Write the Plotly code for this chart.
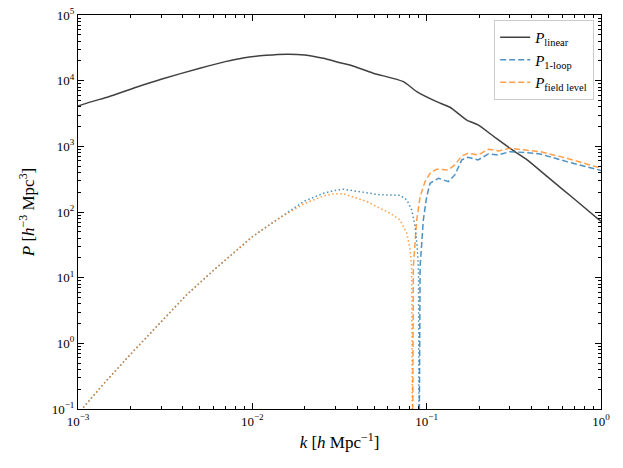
import plotly.graph_objects as go

# P linear (black)
k_lin = [0.001, 0.0012, 0.0015, 0.00218, 0.003, 0.005, 0.007, 0.00886, 0.012, 0.0158, 0.02,
         0.0255, 0.0318, 0.0363, 0.0494, 0.0735, 0.0877, 0.114, 0.136, 0.170, 0.197, 0.25,
         0.31, 0.377, 0.5, 0.7, 1.0]
p_lin = [4100, 4800, 5700, 8010, 10500, 15500, 19500, 22100, 24300, 25300, 24600,
         21900, 18800, 17300, 13000, 9660, 6810, 4790, 3940, 2510, 2120, 1330,
         880, 621, 333, 159, 72]

# P 1-loop: negative part (|P|, dotted) and positive part (dashed)
k_1loop_neg = [0.001, 0.0014, 0.002, 0.003, 0.0042, 0.006, 0.0071, 0.01, 0.0138, 0.0197, 0.0256,
               0.0295, 0.0333, 0.0434, 0.0539, 0.0703, 0.0769, 0.082, 0.0858, 0.0882, 0.0898, 0.0905]
p_1loop_neg = [0.085, 0.24, 0.68, 2.1, 5.5, 13, 19, 42, 76, 145, 193,
               212, 222, 200, 183, 180, 153, 108, 60, 30, 13, 0.02]
k_1loop_pos = [0.0905, 0.0917, 0.0957, 0.1, 0.1046, 0.117, 0.133, 0.145, 0.159, 0.173, 0.197,
               0.226, 0.258, 0.300, 0.377, 0.447, 0.637, 1.0]
p_1loop_pos = [0.02, 14.8, 76, 171, 274, 327, 290, 367, 621, 682, 621,
               766, 739, 830, 802, 766, 585, 430]

# P field level: negative part (|P|, dotted) and positive part (dashed)
k_field_neg = [0.001, 0.0014, 0.002, 0.003, 0.0042, 0.006, 0.0071, 0.01, 0.0138, 0.0197, 0.0256,
               0.0295, 0.0333, 0.0397, 0.0453, 0.0494, 0.0617, 0.0703, 0.0769, 0.0804, 0.082, 0.083]
p_field_neg = [0.085, 0.24, 0.68, 2.1, 5.5, 13, 19, 42, 76, 133, 175,
               190, 190, 165, 145, 128, 96, 76, 47.5, 26.5, 14.8, 0.02]
k_field_pos = [0.083, 0.0839, 0.0877, 0.0917, 0.0979, 0.1046, 0.114, 0.133, 0.145, 0.159, 0.173,
               0.197, 0.226, 0.258, 0.300, 0.377, 0.447, 0.637, 1.0]
p_field_pos = [0.02, 14.8, 76, 171, 290, 389, 448, 437, 521, 714, 785,
               739, 903, 851, 935, 881, 830, 659, 464]

# tick labels
x_ticks = [0.001, 0.01, 0.1, 1]
x_labels = ['10<sup>−3</sup>', '10<sup>−2</sup>', '10<sup>−1</sup>', '10<sup>0</sup>']
y_ticks = [0.1, 1, 10, 100, 1000, 10000, 100000]
y_labels = ['10<sup>−1</sup>', '10<sup>0</sup>', '10<sup>1</sup>', '10<sup>2</sup>',
            '10<sup>3</sup>', '10<sup>4</sup>', '10<sup>5</sup>']

# minor ticks 2..9 in every decade
x_minor = [m * d for d in x_ticks[:-1] for m in range(2, 10)]
y_minor = [m * d for d in y_ticks[:-1] for m in range(2, 10)]

black = 'rgba(0,0,0,0.75)'
blue = 'rgba(31,119,180,0.8)'
orange = 'rgba(255,127,14,0.75)'
dash = '6px,3px'
dot = '1.5px,2.5px'

fig = go.Figure()
fig.add_trace(go.Scatter(x=k_lin, y=p_lin, mode='lines', name='<i>P</i><sub>linear</sub>',
                         line=dict(color=black, width=1.5, shape='spline', smoothing=0.6)))
fig.add_trace(go.Scatter(x=k_1loop_pos, y=p_1loop_pos, mode='lines', name='<i>P</i><sub>1-loop</sub>',
                         line=dict(color=blue, width=1.5, dash=dash)))
fig.add_trace(go.Scatter(x=k_field_pos, y=p_field_pos, mode='lines', name='<i>P</i><sub>field level</sub>',
                         line=dict(color=orange, width=1.5, dash=dash)))
fig.add_trace(go.Scatter(x=k_1loop_neg, y=p_1loop_neg, mode='lines', showlegend=False,
                         line=dict(color=blue, width=1.5, dash=dot)))
fig.add_trace(go.Scatter(x=k_field_neg, y=p_field_neg, mode='lines', showlegend=False,
                         line=dict(color=orange, width=1.5, dash=dot)))

axis_style = dict(
    type='log', showgrid=False, zeroline=False, automargin=False,
    showline=True, linecolor='black', linewidth=1, mirror='allticks',
    ticks='inside', ticklen=6, tickwidth=1, tickcolor='black',
    tickfont=dict(size=13, color='black'),
)

fig.update_layout(
    width=623, height=468,
    margin=dict(l=78, r=22, t=15, b=59),
    plot_bgcolor='white', paper_bgcolor='white',
    font=dict(family='Liberation Serif', color='black'),
    legend=dict(x=0.987, y=0.987, xanchor='right', yanchor='top',
                bgcolor='rgba(255,255,255,0.8)', bordercolor='#cccccc', borderwidth=1,
                font=dict(size=15)),
)
fig.update_xaxes(axis_style, range=[-3, 0], tickvals=x_ticks, ticktext=x_labels,
                 minor=dict(ticks='inside', ticklen=3, tickwidth=0.8, tickcolor='black',
                            showgrid=False, tickvals=x_minor),
                 title=dict(text='<i>k</i> [<i>h</i> Mpc<sup>−1</sup>]', font=dict(size=17), standoff=8))
fig.update_yaxes(axis_style, range=[-1, 5], tickvals=y_ticks, ticktext=y_labels,
                 minor=dict(ticks='inside', ticklen=3, tickwidth=0.8, tickcolor='black',
                            showgrid=False, tickvals=y_minor),
                 title=dict(text='<i>P</i> [<i>h</i><sup>−3</sup> Mpc<sup>3</sup>]', font=dict(size=17), standoff=12))

# drop the default body margin so the figure sits at the page corner, and hide the toolbar
fig.write_html('out.html', config={'displayModeBar': False},
               post_script="document.body.style.margin='0';")
